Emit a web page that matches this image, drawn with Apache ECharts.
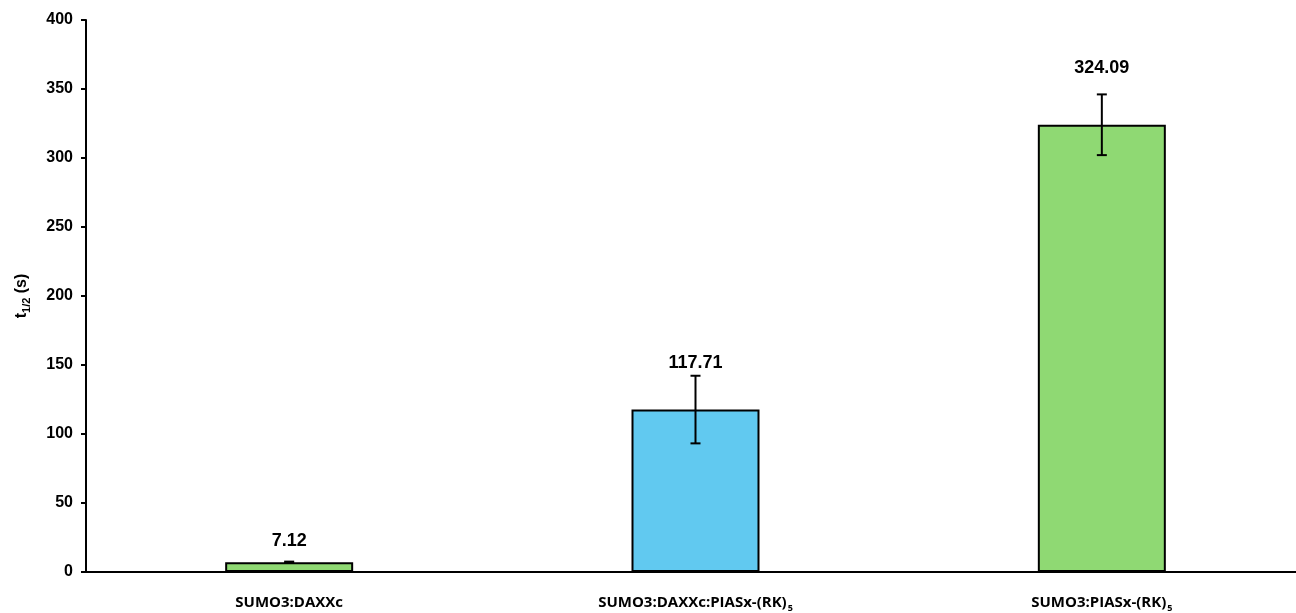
<!DOCTYPE html>
<html>
<head>
<meta charset="utf-8">
<script src="https://cdn.jsdelivr.net/npm/echarts@6/dist/echarts.min.js"></script>
<style>
  html, body { margin: 0; padding: 0; background: #ffffff; overflow: hidden; }
  #chart { width: 1296px; height: 613px; }
</style>
</head>
<body>
<div id="chart"></div>
<script>
// Half-life of each complex, with standard deviations
const categories = ['SUMO3:DAXXc', 'SUMO3:DAXXc:PIASx-(RK)5', 'SUMO3:PIASx-(RK)5'];
const halfLives = [7.12, 117.71, 324.09];
const deviations = [0.4, 24.5, 22.0];
const barColors = ['#8fd973', '#61c9f0', '#8fd973'];
const yTicks = [0, 50, 100, 150, 200, 250, 300, 350, 400];

// How far (px) each value label sits above its error bar
const labelLift = [21, 13, 26];

const chart = echarts.init(document.getElementById('chart'));

function categoryLabel(name) {
  // "(RK)5" gets the 5 as a subscript
  const m = name.match(/^(.*\(RK\))(\d)$/);
  if (m) return '{n|' + m[1] + '}{s|' + m[2] + '}';
  return '{n|' + name + '}';
}

chart.setOption({
  animation: false,
  grid: { left: 86, right: -9, top: 20, bottom: 41, containLabel: false, outerBoundsMode: 'none' },
  xAxis: {
    type: 'category',
    data: categories,
    axisLine: { lineStyle: { color: '#000', width: 2 } },
    axisTick: { show: false },
    axisLabel: {
      margin: 22,
      formatter: categoryLabel,
      rich: {
        n: { fontFamily: 'Open Sans', fontWeight: 'bold', fontSize: 15, lineHeight: 18, color: '#000' },
        s: { fontFamily: 'Open Sans', fontWeight: 'bold', fontSize: 9, lineHeight: 18, color: '#000', padding: [10, 0, 0, 1] }
      }
    }
  },
  yAxis: {
    type: 'value',
    min: yTicks[0],
    max: yTicks[yTicks.length - 1],
    interval: 50,
    splitLine: { show: false },
    axisLine: { show: true, lineStyle: { color: '#000', width: 2 } },
    axisTick: { show: true, length: 5, lineStyle: { color: '#000', width: 2 } },
    axisLabel: {
      margin: 13,
      fontFamily: 'Liberation Sans',
      fontWeight: 'bold',
      fontSize: 16,
      color: '#000'
    },
    name: '{t|t}{s|1/2}{t| (s)}',
    nameLocation: 'middle',
    nameGap: 54,
    nameRotate: 90,
    nameTextStyle: {
      rich: {
        t: { fontFamily: 'Liberation Sans', fontWeight: 'bold', fontSize: 16, color: '#000' },
        s: { fontFamily: 'Liberation Sans', fontWeight: 'bold', fontSize: 11, color: '#000', verticalAlign: 'bottom', padding: [9, 0, 0, 0] }
      }
    }
  },
  series: [
    {
      type: 'bar',
      data: halfLives.map((v, i) => ({
        value: v,
        itemStyle: { color: barColors[i], borderColor: '#000', borderWidth: 2 }
      })),
      barWidth: '31.5%'
    },
    {
      type: 'custom',
      data: halfLives.map((v, i) => [i, v, deviations[i]]),
      renderItem: function (params, api) {
        const x = api.value(0);
        const v = api.value(1);
        const d = api.value(2);
        const hi = api.coord([x, v + d]);
        const lo = api.coord([x, v - d]);
        const cap = 5;
        const st = { stroke: '#000', lineWidth: 2 };
        return {
          type: 'group',
          children: [
            { type: 'line', shape: { x1: hi[0], y1: hi[1], x2: lo[0], y2: lo[1] }, style: st },
            { type: 'line', shape: { x1: hi[0] - cap, y1: hi[1], x2: hi[0] + cap, y2: hi[1] }, style: st },
            { type: 'line', shape: { x1: lo[0] - cap, y1: lo[1], x2: lo[0] + cap, y2: lo[1] }, style: st },
            {
              type: 'text',
              x: hi[0],
              y: hi[1] - labelLift[params.dataIndex],
              style: {
                text: v.toFixed(2),
                fontFamily: 'Liberation Sans',
                fontWeight: 'bold',
                fontSize: 18,
                fill: '#000',
                align: 'center',
                verticalAlign: 'middle'
              }
            }
          ]
        };
      },
      z: 5
    }
  ]
});
</script>
</body>
</html>
